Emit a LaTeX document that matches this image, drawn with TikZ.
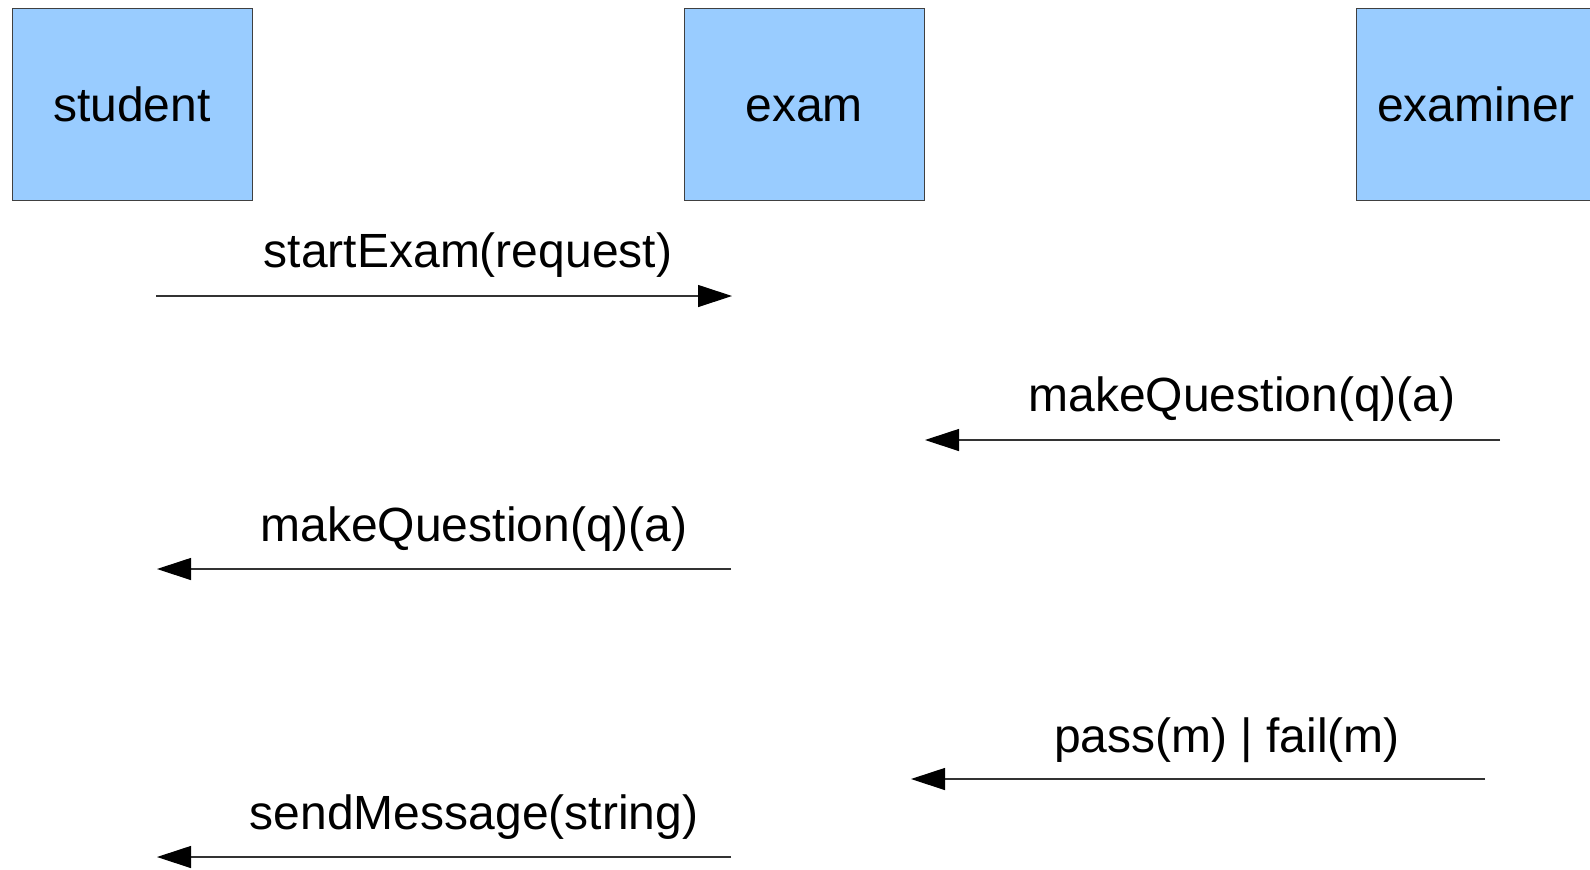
\documentclass[tikz,border=0pt]{standalone}
\usepackage{fontspec}
\setmainfont{Liberation Sans}
\usetikzlibrary{arrows.meta}
\definecolor{boxblue}{HTML}{99CCFF}
\begin{document}
\begin{tikzpicture}[x=0.5pt,y=-0.5pt,
  actor/.style={draw=black!75, fill=boxblue, line width=0.5pt, minimum width=120pt, minimum height=96pt, inner sep=0pt, text height=17.2pt, text depth=0pt, font=\fontsize{24}{28}\selectfont},
  msg/.style={draw=black!80, line width=0.6pt, -{Triangle[length=17pt,width=11pt,color=black]}},
  lbl/.style={font=\fontsize{24}{28}\selectfont, inner sep=0pt}]
\useasboundingbox (0,0) rectangle (1590,869);
\clip (0,0) rectangle (1590,869);
\fill[white] (0,0) rectangle (1590,869);
\node[actor] (student) at (132,104) {student};
\node[actor] (exam) at (804,104) {exam};
\node[actor] (examiner) at (1476,104) {examiner};

\coordinate (a1s) at (156,296); \coordinate (a1e) at (732,296);
\coordinate (a2s) at (1500,440); \coordinate (a2e) at (925,440);
\coordinate (a3s) at (731,569); \coordinate (a3e) at (157,569);
\coordinate (a4s) at (1485,779); \coordinate (a4e) at (911,779);
\coordinate (a5s) at (731,857); \coordinate (a5e) at (157,857);

\draw[msg] (a1s) -- (a1e);
\draw[msg] (a2s) -- (a2e);
\draw[msg] (a3s) -- (a3e);
\draw[msg] (a4s) -- (a4e);
\draw[msg] (a5s) -- (a5e);

\node[lbl] (l1) at (468,255) {startExam(request)};
\node[lbl] (l2) at (1242,399) {makeQuestion(q)(a)};
\node[lbl] (l3) at (474,529) {makeQuestion(q)(a)};
\node[lbl] (l4) at (1227,740) {pass(m) | fail(m)};
\node[lbl] (l5) at (474,817) {sendMessage(string)};
\end{tikzpicture}
\end{document}
